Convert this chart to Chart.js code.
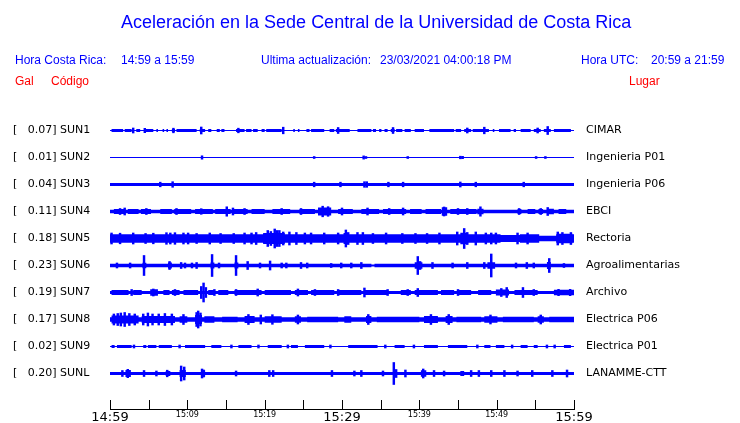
<!DOCTYPE html>
<html>
<head>
<meta charset="utf-8">
<script src="https://cdn.jsdelivr.net/npm/chart.js@4.4.1/dist/chart.umd.min.js"></script>
<style>
    html, body { margin: 0; padding: 0; background: #fff; }
    #wrap { position: relative; width: 740px; height: 423px; }
    #sismo { position: absolute; left: 0; top: 0; }
    .txt { position: absolute; white-space: pre; font-family: "Liberation Sans", Arial, sans-serif; font-size: 12px; line-height: 12px; color: #0000ff; }
    .titulo { font-size: 18px; line-height: 18px; }
    .rojo { color: #ff0000; }
</style>
</head>
<body>
<div id="wrap">
    <canvas id="sismo" width="740" height="423"></canvas>
    <div class="txt titulo" style="left:121px;top:13px">Aceleración en la Sede Central de la Universidad de Costa Rica</div>
    <div class="txt" style="left:15px;top:54px">Hora Costa Rica:</div>
    <div class="txt" style="left:121px;top:54px">14:59 a 15:59</div>
    <div class="txt" style="left:261px;top:54px">Ultima actualización:</div>
    <div class="txt" style="left:380px;top:54px">23/03/2021 04:00:18 PM</div>
    <div class="txt" style="left:581px;top:54px">Hora UTC:</div>
    <div class="txt" style="left:651px;top:54px">20:59 a 21:59</div>
    <div class="txt rojo" style="left:15px;top:75px">Gal</div>
    <div class="txt rojo" style="left:51px;top:75px">Código</div>
    <div class="txt rojo" style="left:629px;top:75px">Lugar</div>
</div>
<script>
// estaciones
const codes = ['SUN1', 'SUN2', 'SUN3', 'SUN4', 'SUN5', 'SUN6', 'SUN7', 'SUN8', 'SUN9', 'SUNL'];
const gal = [0.07, 0.01, 0.04, 0.11, 0.18, 0.23, 0.19, 0.17, 0.02, 0.20];
const places = ['CIMAR', 'Ingenieria P01', 'Ingenieria P06', 'EBCI', 'Rectoria', 'Agroalimentarias',
    'Archivo', 'Electrica P06', 'Electrica P01', 'LANAMME-CTT'];
const timeLabels = ['14:59', '15:09', '15:19', '15:29', '15:39', '15:49', '15:59'];

// semiamplitud de fondo de cada traza
const baseHalf = [0.5, 0.5, 1.5, 1.8, 4.2, 1.8, 1.5, 2.3, 0.5, 1.5];

// tramos de ruido [min inicio, min fin, semiamplitud]
const sun1Blocks = [[0.2, 1.7, 1.5], [1.9, 2.8, 1.5], [3.4, 3.9, 1.5], [4.4, 5.6, 1.5], [6.0, 6.2, 1.5], [6.8, 7.0, 1.5],
    [7.3, 7.5, 1.5], [8.0, 8.4, 1.5], [8.6, 11.2, 1.5], [11.6, 12.3, 1.5], [12.7, 13.1, 1.5], [13.8, 14.2, 1.5],
    [14.4, 14.8, 1.5], [16.3, 17.4, 1.5], [17.6, 18.3, 1.5], [18.5, 19.1, 1.5], [19.6, 20.0, 1.5], [20.2, 22.2, 1.5],
    [23.7, 23.9, 1.5], [24.3, 24.5, 1.5], [25.4, 25.8, 1.5], [26.0, 27.7, 1.5], [28.4, 29.0, 1.5], [29.2, 31.0, 1.5],
    [32.0, 33.8, 1.5], [34.0, 34.4, 1.5], [34.8, 35.1, 1.5], [35.5, 35.9, 1.5], [36.3, 36.8, 1.5], [37.0, 37.8, 1.5],
    [38.1, 38.9, 1.5], [39.4, 40.6, 1.5], [41.3, 44.5, 1.5], [44.7, 45.4, 1.5], [45.8, 46.7, 1.5], [46.9, 49.0, 1.5],
    [49.5, 49.7, 1.5], [50.3, 51.8, 1.5], [52.2, 52.5, 1.5], [53.1, 54.4, 1.5], [54.8, 55.7, 1.5], [56.1, 57.0, 1.5],
    [57.4, 59.6, 1.5]];
const sun2Blocks = [[45.2, 45.7, 1.0]];
const sun3Blocks = [];
const sun4Blocks = [[0.5, 1.9, 2.6], [2.3, 3.7, 2.6], [4.0, 5.3, 2.6], [6.5, 8.0, 2.6], [8.3, 10.5, 2.6], [11.0, 13.3, 2.6],
    [13.6, 15.6, 2.6], [16.0, 17.8, 2.6], [18.3, 20.0, 2.6], [21.0, 23.3, 2.6], [24.5, 26.5, 2.6], [26.9, 28.6, 4.0],
    [29.5, 31.4, 2.6], [32.5, 34.8, 2.6], [35.3, 38.3, 2.6], [38.8, 40.3, 2.6], [40.8, 42.8, 2.6], [42.9, 43.6, 4.2],
    [44.0, 47.4, 2.6], [47.5, 48.3, 2.8], [52.7, 53.2, 2.6], [54.0, 55.0, 2.6], [55.4, 56.0, 2.6], [56.5, 57.4, 2.8],
    [58.0, 59.0, 2.6]];
const sun5Blocks = [[19.8, 22.6, 5.6], [30.2, 30.9, 5.5], [45.3, 46.3, 5.8], [50.5, 53.0, 3.4], [55.5, 57.7, 2.8],
    [57.8, 59.8, 4.8]];
const sun6Blocks = [[4.2, 4.7, 2.8], [7.5, 8.0, 3.0], [13.0, 13.5, 3.0], [16.1, 16.6, 3.0], [33.8, 34.2, 1.0], [39.4, 40.4, 3.3],
    [48.8, 49.8, 3.3], [56.5, 57.0, 3.5]];
const sun7Blocks = [[0.2, 2.4, 2.4], [3.0, 4.1, 2.4], [5.2, 6.2, 3.2], [6.9, 7.7, 2.4], [8.0, 9.0, 2.4], [9.5, 11.4, 2.4],
    [12.7, 13.5, 2.4], [14.0, 15.3, 2.4], [16.1, 19.6, 2.4], [20.0, 23.4, 2.4], [23.9, 25.6, 2.4], [26.0, 29.0, 2.4],
    [29.5, 32.5, 2.4], [32.9, 35.9, 2.4], [37.6, 38.9, 2.4], [39.4, 42.4, 2.4], [42.8, 44.5, 2.4], [45.0, 46.7, 2.4],
    [47.6, 49.3, 2.4], [49.9, 51.6, 3.0], [52.3, 55.3, 2.4], [57.4, 60, 2.8]];
const sun8Blocks = [[0.2, 3.7, 4.0], [4.1, 8.4, 3.5], [9.0, 10.0, 3.3], [11.0, 11.9, 4.5], [12.2, 13.5, 3.2], [14.5, 16.5, 2.8],
    [17.4, 18.7, 3.5], [20.0, 22.2, 3.3], [23.9, 24.7, 3.3], [25.5, 29.5, 2.8], [30.3, 31.2, 3.2], [33.1, 33.8, 3.5],
    [34.5, 40.0, 2.8], [40.6, 42.4, 3.4], [43.4, 44.3, 3.4], [44.8, 48.0, 2.8], [48.4, 50.1, 3.3], [50.8, 54.8, 2.8],
    [55.3, 56.1, 3.3], [56.8, 60, 2.8]];
const sun9Blocks = [[0.2, 0.6, 1.5], [0.9, 2.8, 1.5], [4.3, 4.7, 1.5], [4.9, 6.0, 1.5], [6.3, 8.0, 1.5], [9.7, 12.3, 1.5],
    [13.1, 14.4, 1.5], [16.6, 18.3, 1.5], [20.4, 22.2, 1.5], [23.4, 24.3, 1.5], [25.2, 27.7, 1.5], [30.8, 34.6, 1.5],
    [36.8, 38.1, 1.5], [40.6, 42.4, 1.5], [43.7, 46.2, 1.5], [48.4, 49.2, 1.5], [49.9, 51.0, 1.5], [53.1, 54.0, 1.5],
    [54.8, 55.3, 1.5], [58.7, 59.6, 1.5]];
const sunLBlocks = [[2.0, 2.7, 3.5], [7.2, 7.8, 2.6], [9.0, 9.8, 3.5], [11.8, 12.3, 3.2], [40.2, 40.9, 3.3], [45.3, 45.8, 2.5]];

// picos [minuto, semiamplitud]
const sun1Spikes = [[3.0, 2.5], [4.5, 2.2], [8.2, 2.3], [11.8, 3.5], [16.6, 2.3], [22.4, 3.3], [29.5, 3.0], [36.6, 3.0],
    [46.2, 2.5], [48.4, 3.3], [55.3, 2.5], [56.6, 4.0]];
const sun2Spikes = [[11.9, 1.7], [26.4, 1.0], [32.8, 1.6], [33.1, 1.0], [38.5, 1.0], [45.3, 1.3], [45.6, 1.2], [55.1, 1.0],
    [56.3, 1.0]];
const sun3Spikes = [[6.5, 2.3], [8.1, 2.8], [26.4, 2.3], [29.8, 2.3], [32.9, 2.8], [33.2, 2.8], [36.0, 2.3], [37.9, 2.3],
    [45.3, 2.5], [47.3, 2.3], [53.5, 2.3]];
const sun4Spikes = [[1.3, 3.0], [1.9, 3.5], [4.7, 3.0], [8.6, 3.0], [11.8, 2.8], [15.1, 4.7], [15.9, 3.5], [17.4, 3.0],
    [22.2, 3.0], [24.7, 3.0], [27.5, 5.3], [28.2, 4.8], [30.0, 3.5], [33.3, 3.5], [36.1, 3.0], [37.9, 3.5], [43.2, 4.5],
    [45.0, 3.0], [46.2, 3.0], [47.9, 4.7], [52.9, 3.0], [55.7, 3.0], [56.6, 4.0]];
const sun5Spikes = [[0.2, 5.5], [1.3, 5.3], [3.0, 5.5], [4.6, 5.0], [5.6, 5.3], [7.3, 5.8], [7.8, 5.5], [8.4, 5.8],
    [9.5, 5.5], [10.1, 5.5], [11.2, 5.0], [12.9, 5.5], [14.3, 5.0], [16.0, 5.0], [17.4, 5.5], [18.3, 5.5], [18.9, 6.0],
    [20.4, 8.0], [20.8, 7.0], [21.3, 9.5], [21.6, 8.0], [21.9, 8.0], [22.4, 6.5], [23.2, 6.5], [24.1, 6.0], [25.2, 5.5],
    [26.0, 5.5], [27.7, 5.5], [29.5, 5.5], [30.5, 8.5], [30.8, 6.0], [32.0, 6.0], [32.7, 6.0], [34.0, 5.0], [35.7, 5.5],
    [37.8, 5.0], [39.5, 5.0], [41.0, 5.0], [42.6, 5.5], [44.9, 6.5], [45.8, 10.0], [46.2, 6.0], [47.3, 6.5], [48.6, 5.5],
    [49.3, 5.5], [49.9, 5.5], [52.7, 5.5], [54.0, 5.5], [57.9, 6.5], [58.5, 6.0], [59.6, 6.0]];
const sun6Spikes = [[0.9, 2.5], [2.6, 2.5], [4.4, 10.0], [7.7, 4.0], [9.2, 3.0], [9.7, 2.5], [10.6, 2.5], [11.2, 3.0],
    [13.2, 11.0], [14.1, 2.5], [16.3, 10.0], [17.8, 4.0], [19.4, 2.5], [20.7, 4.5], [22.2, 2.5], [22.8, 2.5], [24.7, 3.0],
    [25.5, 2.5], [28.6, 2.0], [29.9, 2.5], [31.2, 2.5], [32.5, 3.0], [39.8, 9.0], [40.1, 4.0], [41.7, 3.0], [44.3, 2.5],
    [46.2, 3.0], [48.4, 3.0], [49.3, 11.5], [52.5, 2.5], [53.9, 3.0], [54.8, 2.5], [56.8, 7.0], [58.7, 2.0]];
const sun7Spikes = [[2.8, 3.0], [5.6, 3.5], [8.4, 3.0], [11.8, 6.0], [12.1, 9.5], [12.4, 5.0], [13.5, 3.0], [16.3, 3.0],
    [19.1, 3.5], [24.3, 3.5], [26.5, 3.0], [29.5, 3.0], [32.9, 4.5], [35.9, 3.0], [38.5, 3.0], [39.8, 4.0], [45.0, 3.0],
    [50.6, 4.0], [51.3, 5.0], [53.4, 5.0], [54.8, 3.0], [58.0, 3.2], [59.5, 3.2]];
const sun8Spikes = [[0.5, 5.5], [1.0, 6.0], [1.4, 6.5], [1.9, 7.0], [2.5, 6.0], [3.2, 5.5], [4.3, 5.5], [4.9, 6.5],
    [5.5, 5.5], [6.3, 5.5], [7.1, 6.0], [8.0, 5.5], [9.5, 5.0], [11.2, 7.0], [11.4, 8.5], [11.7, 6.5], [17.9, 5.0],
    [19.5, 4.5], [21.0, 4.8], [24.3, 4.5], [33.4, 5.0], [41.5, 5.0], [43.8, 5.0], [49.2, 4.5], [55.7, 4.5]];
const sun9Spikes = [[3.1, 1.5], [9.0, 1.5], [15.7, 1.5], [19.2, 1.5], [23.0, 1.5], [28.5, 1.5], [35.6, 1.5], [39.3, 1.5],
    [47.5, 1.5], [52.0, 1.5], [56.5, 1.5], [57.5, 1.5]];
const sunLSpikes = [[1.6, 3.0], [2.3, 4.2], [4.4, 3.0], [6.0, 2.5], [7.4, 3.3], [9.2, 7.5], [9.6, 6.5], [11.9, 4.5],
    [12.1, 3.5], [16.3, 2.5], [20.6, 3.0], [21.1, 3.0], [28.7, 3.0], [31.6, 2.5], [32.5, 3.0], [35.3, 2.5], [36.7, 11.0],
    [37.0, 4.0], [38.2, 3.5], [40.5, 4.5], [41.9, 3.0], [43.2, 2.5], [46.7, 3.0], [47.7, 3.0], [49.3, 3.0], [51.0, 3.0],
    [52.7, 2.5], [54.6, 3.0], [57.2, 3.0], [59.1, 3.5]];

const blockSets = [sun1Blocks, sun2Blocks, sun3Blocks, sun4Blocks, sun5Blocks, sun6Blocks, sun7Blocks, sun8Blocks, sun9Blocks, sunLBlocks];
const spikeSets = [sun1Spikes, sun2Spikes, sun3Spikes, sun4Spikes, sun5Spikes, sun6Spikes, sun7Spikes, sun8Spikes, sun9Spikes, sunLSpikes];

const BLUE = '#0000ff';
const NONE = 'rgba(0,0,0,0)';
const ROW = 27;      // separacion entre trazas
const SPAN = 60;     // minutos

// envolvente escalonada (sign = 1 arriba, -1 abajo)
function envelope(base, blocks, center, sign) {
    const pts = [{ x: 0, y: center + sign * base }];
    blocks.forEach(([t0, t1, h]) => {
        pts.push({ x: t0, y: center + sign * h });
        pts.push({ x: t1, y: center + sign * base });
    });
    pts.push({ x: SPAN, y: center + sign * base });
    return pts;
}

const datasets = [];
codes.forEach((code, i) => {
    const c = -i * ROW;
    datasets.push({
        type: 'line', data: envelope(baseHalf[i], blockSets[i], c, 1), stepped: true,
        borderColor: NONE, borderWidth: 1, backgroundColor: BLUE, fill: '+1', pointRadius: 0
    });
    datasets.push({
        type: 'line', data: envelope(baseHalf[i], blockSets[i], c, -1), stepped: true,
        borderColor: NONE, borderWidth: 1, fill: false, pointRadius: 0
    });
    datasets.push({
        type: 'bar', data: spikeSets[i].map(([t, h]) => ({ x: t, y: [c - h, c + h] })),
        backgroundColor: BLUE, barThickness: 1.8, grouped: false
    });
});

// marcas del eje hacia arriba
const upTicks = {
    id: 'upTicks',
    afterDraw(chart) {
        const { ctx, chartArea, scales: { x } } = chart;
        ctx.save();
        ctx.strokeStyle = '#000';
        ctx.lineWidth = 1;
        x.ticks.forEach(t => {
            const px = Math.round(x.getPixelForValue(t.value)) + 0.5;
            ctx.beginPath();
            ctx.moveTo(px, chartArea.bottom);
            ctx.lineTo(px, chartArea.bottom - 9);
            ctx.stroke();
        });
        ctx.restore();
    }
};

// sin relleno extra de las etiquetas en el layout
const noPad = s => { s.paddingTop = 0; s.paddingBottom = 0; s.paddingLeft = 0; s.paddingRight = 0; };

// centro de cada traza en medio de un pixel
const yMax = 15.5;
const yMin = yMax - 294;

new Chart(document.getElementById('sismo'), {
    type: 'line',
    data: { datasets },
    plugins: [upTicks],
    options: {
        responsive: false,
        animation: false,
        events: [],
        layout: { padding: { left: 13, right: 0, top: 115, bottom: 0 } },
        plugins: { legend: { display: false }, tooltip: { enabled: false } },
        scales: {
            x: {
                type: 'linear', min: 0, max: SPAN, offset: false,
                grid: { display: false, drawTicks: false },
                border: { display: true, color: '#000', width: 1 },
                afterFit: s => { s.height = 14; noPad(s); },
                ticks: {
                    stepSize: 5, autoSkip: false, maxRotation: 0, padding: 1, color: '#000',
                    font: ctx => ({ family: 'DejaVu Sans', size: ctx.tick && ctx.tick.value % 30 === 0 ? 13 : 8 }),
                    callback: v => (v % 10 === 0 ? timeLabels[v / 10] : '')
                }
            },
            y: {
                position: 'left', min: yMin, max: yMax,
                grid: { display: false, drawTicks: false },
                border: { display: false },
                afterFit: s => { s.width = 97; noPad(s); },
                afterBuildTicks: s => { s.ticks = codes.map((_, i) => ({ value: -i * ROW })); },
                ticks: {
                    autoSkip: false, crossAlign: 'far', padding: 0, color: '#000',
                    font: { family: 'DejaVu Sans', size: 11 },
                    callback: (v, i) => '[   ' + gal[i].toFixed(2) + '] ' + codes[i]
                }
            },
            y2: {
                position: 'right', min: yMin, max: yMax,
                grid: { display: false, drawTicks: false },
                border: { display: false },
                afterFit: s => { s.width = 166; noPad(s); },
                afterBuildTicks: s => { s.ticks = places.map((_, i) => ({ value: -i * ROW })); },
                ticks: {
                    autoSkip: false, crossAlign: 'near', padding: 12, color: '#000',
                    font: { family: 'DejaVu Sans', size: 11 },
                    callback: (v, i) => places[i]
                }
            }
        }
    }
});
</script>
</body>
</html>
